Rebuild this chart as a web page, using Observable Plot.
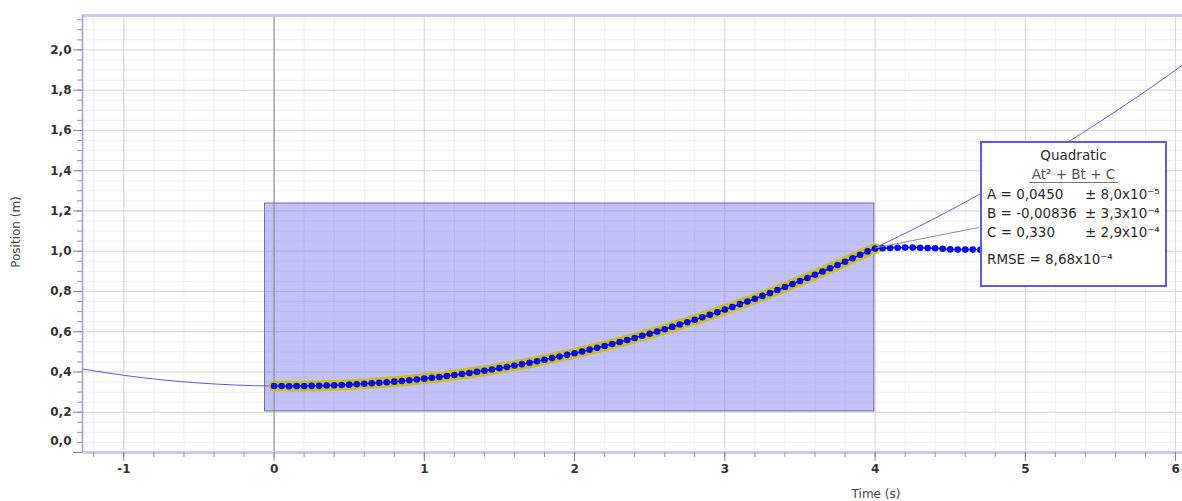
<!DOCTYPE html>
<html><head><meta charset="utf-8">
<script src="https://cdn.jsdelivr.net/npm/d3@7"></script>
<script src="https://cdn.jsdelivr.net/npm/@observablehq/plot@0.6"></script>
<style>
body{margin:0;background:#fff;font-family:"DejaVu Sans",sans-serif;}
#wrap{position:relative;width:1182px;height:501px;overflow:hidden;}
#wrap svg{position:absolute;left:0;top:0;}
.ylab{position:absolute;left:16px;top:232px;transform:translate(-50%,-50%) rotate(-90deg);font-size:12px;color:#444;white-space:nowrap;}
.xlab{position:absolute;left:876px;top:486px;transform:translateX(-50%);font-size:12px;line-height:16px;color:#444;white-space:nowrap;}
#note{position:absolute;left:980px;top:141px;width:187px;height:146px;box-sizing:border-box;border:2px solid #5b5be8;background:#fff;font-size:13.5px;color:#2a2a2a;}
#note div{position:absolute;white-space:nowrap;line-height:17px;}
.c{left:0;right:0;text-align:center;}
.eq{display:inline-block;color:#555;border-bottom:1px solid #777;padding:0 3px;line-height:16px;}
</style></head><body>
<div id="wrap"></div>
<script>
// ---- data ----
const time = [0.00,0.05,0.10,0.15,0.20,0.25,0.30,0.35,0.40,0.45,0.50,0.55,0.60,0.65,0.70,0.75,0.80,0.85,0.90,0.95,
  1.00,1.05,1.10,1.15,1.20,1.25,1.30,1.35,1.40,1.45,1.50,1.55,1.60,1.65,1.70,1.75,1.80,1.85,1.90,1.95,
  2.00,2.05,2.10,2.15,2.20,2.25,2.30,2.35,2.40,2.45,2.50,2.55,2.60,2.65,2.70,2.75,2.80,2.85,2.90,2.95,
  3.00,3.05,3.10,3.15,3.20,3.25,3.30,3.35,3.40,3.45,3.50,3.55,3.60,3.65,3.70,3.75,3.80,3.85,3.90,3.95,
  4.00,4.05,4.10,4.15,4.20,4.25,4.30,4.35,4.40,4.45,4.50,4.55,4.60,4.65,4.70,4.75,4.80,4.85,4.90,4.95,5.00];
const position = [0.330,0.330,0.329,0.330,0.330,0.331,0.331,0.333,0.334,0.335,0.337,0.339,0.341,0.344,0.346,0.349,0.352,0.355,0.359,0.363,
  0.367,0.371,0.375,0.380,0.385,0.390,0.395,0.401,0.406,0.412,0.419,0.425,0.432,0.439,0.446,0.453,0.461,0.469,0.477,0.485,
  0.493,0.502,0.511,0.520,0.529,0.539,0.549,0.559,0.569,0.580,0.590,0.601,0.612,0.624,0.636,0.647,0.659,0.672,0.684,0.697,
  0.710,0.723,0.737,0.750,0.764,0.778,0.792,0.807,0.822,0.837,0.852,0.867,0.883,0.899,0.915,0.931,0.948,0.965,0.982,0.999,
  1.013,1.015,1.016,1.017,1.018,1.018,1.017,1.016,1.015,1.012,1.009,1.008,1.008,1.008,1.007,1.007,1.008,1.008,1.007,1.007,1.008];
// quadratic fit curve, sampled
const fitTime = [-1.5,-1.0,-0.5,0.0,0.5,1.0,1.5,2.0,2.5,3.0,3.5,4.0,4.5,5.0,5.5,6.0,6.5];
const fitPosition = [0.4438,0.3834,0.3454,0.3300,0.3371,0.3666,0.4187,0.4933,0.5904,0.7099,0.8520,1.0166,1.2036,1.4132,1.6453,1.8998,2.1769];
// selected region (time range, position range)
const selTime = [-0.06, 3.995];
const selPosition = [0.204, 1.237];
// leader line from fit end to annotation
const leaderTime = [4.0, 4.69];
const leaderPosition = [1.016, 1.118];
// ticks
const xTicks = [-1,0,1,2,3,4,5,6];
const yTicks = [0,0.2,0.4,0.6,0.8,1.0,1.2,1.4,1.6,1.8,2.0];
const xDomain = [-1.275, 6.046];
const yDomain = [0, 2.171];

const xMinor = d3.range(-6, 31).map(i => +(i*0.2).toFixed(2)).filter(d => d > xDomain[0] && d < xDomain[1]);
const yMinor = d3.range(0, 44).map(i => +(i*0.05).toFixed(2)).filter(d => d <= yDomain[1]);

const pts = time.map((t,i) => ({t, p: position[i]}));
const sel = pts.filter(d => d.t >= 0 && d.t <= 4);
const fit = fitTime.map((t,i) => ({t, p: fitPosition[i]}));
const rectData = [{x1: selTime[0], x2: selTime[1], y1: selPosition[0], y2: selPosition[1]}];
const leader = [{x1: leaderTime[0], x2: leaderTime[1], y1: leaderPosition[0], y2: leaderPosition[1]}];
const fmtY = d => d.toFixed(1).replace(".", ",");

const chart = Plot.plot({
  width: 1182, height: 501,
  marginLeft: 82, marginRight: 0, marginTop: 15, marginBottom: 49,
  style: {fontFamily: "DejaVu Sans, sans-serif", background: "transparent"},
  x: {domain: xDomain, axis: null},
  y: {domain: yDomain, axis: null},
  marks: [
    Plot.ruleX(xMinor, {stroke: "#efefef"}),
    Plot.ruleY(yMinor, {stroke: "#f1f1f1"}),
    Plot.ruleX(xTicks, {stroke: "#d9d9d9"}),
    Plot.ruleY(yTicks, {stroke: "#dadada"}),
    Plot.rect(rectData, {x1: "x1", x2: "x2", y1: "y1", y2: "y2", fill: "#7a7af2", fillOpacity: 0.46, stroke: "#6c6ca8", strokeWidth: 1}),
    Plot.ruleX([0], {stroke: "#8a8a8a"}),
    Plot.line(fit, {x: "t", y: "p", stroke: "#5a5aee", strokeWidth: 1, curve: "natural", clip: true}),
    Plot.line(sel, {x: "t", y: "p", stroke: "#c9c12c", strokeWidth: 11, strokeLinecap: "round"}),
    Plot.line(pts, {x: "t", y: "p", stroke: "#0a0aee", strokeWidth: 1.5}),
    Plot.dot(pts, {x: "t", y: "p", r: 3.3, fill: "#0a0aee"}),
    Plot.link(leader, {x1: "x1", x2: "x2", y1: "y1", y2: "y2", stroke: "#8e8e8e", strokeWidth: 1}),
    Plot.ruleY([yDomain[0]], {stroke: "#c6ccf6", strokeWidth: 3}),
    Plot.ruleY([yDomain[1]], {stroke: "#c6ccf6", strokeWidth: 3}),
    Plot.ruleX([xDomain[0]], {stroke: "#9aa0c2", strokeWidth: 1.5}),
    Plot.axisX(xMinor, {tickSize: 5, tickFormat: () => "", label: null, stroke: "#999"}),
    Plot.axisX(xTicks, {tickSize: 9, tickPadding: 3, tickFormat: d => String(d), label: null, stroke: "#888", fill: "#333", fontSize: 12, fontWeight: "bold"}),
    Plot.axisY(yMinor, {tickSize: 5, tickFormat: () => "", label: null, stroke: "#999"}),
    Plot.axisY(yTicks, {tickSize: 9, tickPadding: 2, tickFormat: d => d === 0 ? "" : fmtY(d), label: null, stroke: "#888", fill: "#333", fontSize: 12, fontWeight: "bold"}),
    Plot.axisY([0], {tickSize: 0, tickPadding: 11, dy: -11, tickFormat: fmtY, label: null, fill: "#333", fontSize: 12, fontWeight: "bold"})
  ]
});
const wrap = document.getElementById("wrap");
wrap.appendChild(chart);
wrap.insertAdjacentHTML("beforeend", `
<div class="ylab">Position (m)</div>
<div class="xlab">Time (s)</div>
<div id="note">
  <div class="c" style="top:4px">Quadratic</div>
  <div class="c" style="top:23px"><span class="eq">At² + Bt + C</span></div>
  <div style="left:5px;top:43px">A = 0,0450</div><div style="left:103px;top:43px">± 8,0x10⁻⁵</div>
  <div style="left:5px;top:62px">B = -0,00836</div><div style="left:103px;top:62px">± 3,3x10⁻⁴</div>
  <div style="left:5px;top:81px">C = 0,330</div><div style="left:103px;top:81px">± 2,9x10⁻⁴</div>
  <div style="left:5px;top:108px">RMSE = 8,68x10⁻⁴</div>
</div>`);
</script>
</body></html>
